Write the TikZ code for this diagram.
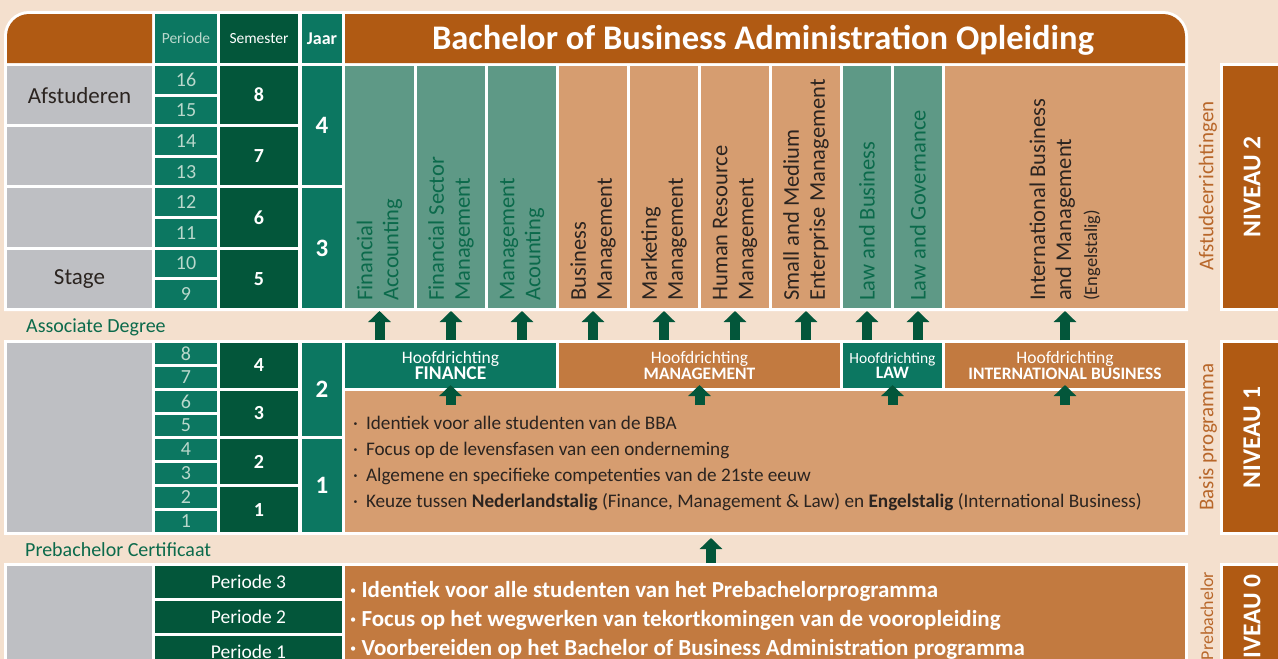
\documentclass[tikz,border=0pt]{standalone}
\usepackage{fontspec}
\setmainfont{Carlito}
\usetikzlibrary{arrows.meta,positioning}

\definecolor{bgpeach}{HTML}{F4E0CE}
\definecolor{brownhdr}{HTML}{B05A13}
\definecolor{graycell}{HTML}{BEBFC3}
\definecolor{greenmid}{HTML}{0C7761}
\definecolor{greendark}{HTML}{03563A}
\definecolor{greenlight}{HTML}{5E9986}
\definecolor{tancol}{HTML}{D69D70}
\definecolor{hoofdbrown}{HTML}{C27A40}
\definecolor{txtgreen}{HTML}{0B6A4B}
\definecolor{txtdark}{HTML}{2B2420}
\definecolor{pnum}{HTML}{BAD8CC}
\definecolor{sidebrown}{HTML}{B8672A}

\newcommand\fsz[2]{\fontsize{#1pt}{#2pt}\selectfont}

\begin{document}
\begin{tikzpicture}[x=1pt,y=-1pt,
  cell/.style={inner sep=0pt,outer sep=0pt,anchor=north west},
  coltxt/.style={rotate=90,anchor=west,inner sep=0pt,align=left,font=\fsz{22.5}{26}},
  sidetxt/.style={rotate=90,inner sep=0pt,text=sidebrown,font=\fsz{21}{24}},
  nivtxt/.style={rotate=90,inner sep=0pt,text=white,font=\bfseries\fsz{25.5}{28}},
  lbl/.style={anchor=west,inner sep=0pt,text=txtgreen,font=\fsz{20}{23}},
  uparrow/.style={draw=greendark,line width=10pt,-{Triangle[width=22pt,length=11pt]}},
  hoofd/.style={cell,text=white,align=center,minimum height=45pt}]

\clip (0,0) rectangle (1278,659);
\fill[bgpeach] (0,0) rectangle (1278,659);

% white frames
\fill[white] (4,311) -- (4,36) arc[start angle=180,end angle=270,radius=25]
  -- (1163,11) arc[start angle=270,end angle=360,radius=25] -- (1188,311) -- cycle;
\node[cell,fill=white,minimum width=1184pt,minimum height=195pt] (midframe) at (4,340) {};
\node[cell,fill=white,minimum width=1184pt,minimum height=120pt] (botframe) at (4,563) {};

% header
\fill[brownhdr] (7,63) -- (7,36) arc[start angle=180,end angle=270,radius=22] -- (152,14) -- (152,63) -- cycle;
\fill[brownhdr] (345,63) -- (345,14) -- (1163,14) arc[start angle=270,end angle=360,radius=22] -- (1185,63) -- cycle;
\node[font=\bfseries\fsz{34.5}{38},text=white] (title) at (763,40) {Bachelor of Business Administration Opleiding};
\node[cell,fill=greenmid,minimum width=62pt,minimum height=49pt,text=pnum,font=\fsz{15.5}{17}] (hper) at (155,14) {Periode};
\node[cell,fill=greendark,minimum width=78pt,minimum height=49pt,text=white,font=\fsz{15.5}{17}] (hsem) at (220,14) {Semester};
\node[cell,fill=greenmid,minimum width=40pt,minimum height=49pt,text=white,font=\bfseries\fsz{18}{20}] (hjaar) at (302,14) {Jaar};

% niveau 2: afstudeerrichtingen
\foreach \t [count=\i from 0] in {Afstuderen,{},{},Stage}
  \node[cell,fill=graycell,minimum width=145pt,minimum height=58.2pt,text=txtdark,font=\fsz{23}{26}] (ga\i) at (7,{66+\i*61.2}) {\t};
\foreach \n [count=\i from 0] in {16,15,...,9}
  \node[cell,fill=greenmid,minimum width=62pt,minimum height=27.6pt,text=pnum,font=\fsz{20}{22}] (p\n) at (155,{66+\i*30.6}) {\n};
\foreach \n [count=\i from 0] in {8,7,6,5}
  \node[cell,fill=greendark,minimum width=78pt,minimum height=58.2pt,text=white,font=\bfseries\fsz{20}{22}] (s\n) at (220,{66+\i*61.2}) {\n};
\foreach \n [count=\i from 0] in {4,3}
  \node[cell,fill=greenmid,minimum width=40pt,minimum height=119.4pt,text=white,font=\bfseries\fsz{25}{27}] (j\n) at (302,{66+\i*122.4}) {\n};

\foreach \nm/\x/\w/\fc/\tc/\txt in {
  fa/345/69/greenlight/txtgreen/{Financial\\Accounting},
  fsm/417/68/greenlight/txtgreen/{Financial Sector\\Management},
  ma/488/68/greenlight/txtgreen/{Management\\Acounting},
  bm/559/68/tancol/txtdark/{Business\\Management},
  mm/630/68/tancol/txtdark/{Marketing\\Management},
  hrm/701/68/tancol/txtdark/{Human Resource\\Management},
  sme/772/68/tancol/txtdark/{Small and Medium\\Enterprise Management},
  lb/843/48/greenlight/txtgreen/{Law and Business},
  lg/894/48/greenlight/txtgreen/{Law and Governance},
  ibm/945/240/tancol/txtdark/{International Business\\and Management\\{\fsz{18.5}{22}(Engelstalig)}}}
{
  \node[cell,fill=\fc,minimum width=\w pt,minimum height=242pt] (\nm) at (\x,66) {};
  \node[coltxt,text=\tc] (\nm-t) at ([yshift=7pt]\nm.south) {\txt};
}

\node[cell,fill=white,minimum width=65pt,minimum height=248pt] (niv2frame) at (1220,63) {};
\node[cell,fill=brownhdr,minimum width=58pt,minimum height=242pt] (niv2) at (1223,66) {};
\node[nivtxt] (niv2t) at (niv2.center) {NIVEAU 2};
\node[sidetxt] (afst) at (1208,186) {Afstudeerrichtingen};

\node[lbl] (assoc) at (26,327) {Associate Degree};
\foreach \c in {fa,fsm,ma,bm,mm,hrm,sme,lb,lg,ibm}
  \draw[uparrow] (\c.south |- midframe.north) -- ([yshift=-3pt]\c.south);

% niveau 1: basis programma
\node[cell,fill=graycell,minimum width=145pt,minimum height=189pt] (gm) at (7,343) {};
\foreach \n [count=\i from 0] in {8,7,...,1}
  \node[cell,fill=greenmid,minimum width=62pt,minimum height=21pt,text=pnum,font=\fsz{20}{22}] (q\n) at (155,{343+\i*24}) {\n};
\foreach \n [count=\i from 0] in {4,3,2,1}
  \node[cell,fill=greendark,minimum width=78pt,minimum height=45pt,text=white,font=\bfseries\fsz{20}{22}] (t\n) at (220,{343+\i*48}) {\n};
\foreach \n [count=\i from 0] in {2,1}
  \node[cell,fill=greenmid,minimum width=40pt,minimum height=93pt,text=white,font=\bfseries\fsz{25}{27}] (k\n) at (302,{343+\i*96}) {\n};

\node[hoofd,fill=greenmid,minimum width=211pt] (hfin) at (345,343)
  {{\fsz{17.5}{18}Hoofdrichting}\\{\bfseries\fsz{19.5}{19}FINANCE}};
\node[hoofd,fill=hoofdbrown,minimum width=281pt] (hman) at (559,343)
  {{\fsz{17.5}{18}Hoofdrichting}\\{\bfseries\fsz{17.5}{19}MANAGEMENT}};
\node[hoofd,fill=greenmid,minimum width=99pt] (hlaw) at (843,343)
  {{\fsz{15.5}{17}Hoofdrichting}\\{\bfseries\fsz{17.5}{19}LAW}};
\node[hoofd,fill=hoofdbrown,minimum width=240pt] (hib) at (945,343)
  {{\fsz{17.5}{18}Hoofdrichting}\\{\bfseries\fsz{17.5}{19}INTERNATIONAL BUSINESS}};

\node[cell,fill=tancol,minimum width=840pt,minimum height=141pt] (basis) at (345,391) {};
\node[anchor=north west,inner sep=0pt,align=left,text=txtdark,font=\fsz{19.2}{26}] (basist) at (353,416)
  {·\hspace{8pt}Identiek voor alle studenten van de BBA\\
   ·\hspace{8pt}Focus op de levensfasen van een onderneming\\
   ·\hspace{8pt}Algemene en specifieke competenties van de 21ste eeuw\\
   ·\hspace{8pt}Keuze tussen \textbf{Nederlandstalig} (Finance, Management \& Law) en \textbf{Engelstalig} (International Business)};
\foreach \h in {hfin,hman,hlaw,hib}
  \draw[uparrow] ([yshift=-17pt]\h.south) -- ([yshift=3pt]\h.south);

\node[cell,fill=white,minimum width=65pt,minimum height=195pt] (niv1frame) at (1220,340) {};
\node[cell,fill=brownhdr,minimum width=58pt,minimum height=189pt] (niv1) at (1223,343) {};
\node[nivtxt] (niv1t) at (niv1.center) {NIVEAU 1};
\node[sidetxt] (basp) at (1208,437) {Basis programma};

\node[lbl] (pbcert) at (25,550) {Prebachelor Certificaat};
\coordinate (pbarrow) at (711,563);
\draw[uparrow] (pbarrow) -- ([yshift=-3pt]pbarrow |- midframe.south);

% niveau 0: prebachelor
\node[cell,fill=graycell,minimum width=145pt,minimum height=112pt] (gb) at (7,566) {};
\foreach \n [count=\i from 0] in {3,2,1}
  \node[cell,fill=greendark,minimum width=187pt,minimum height=32pt,text=white,font=\fsz{19.5}{21}] (pp\n) at (155,{566+\i*35}) {Periode \n};
\node[cell,fill=hoofdbrown,minimum width=840pt,minimum height=112pt] (pbbox) at (345,566) {};
\node[anchor=north west,inner sep=0pt,align=left,text=white,font=\bfseries\fsz{23}{29}] (pbt) at (350,581)
  {· Identiek voor alle studenten van het Prebachelorprogramma\\
   · Focus op het wegwerken van tekortkomingen van de vooropleiding\\
   · Voorbereiden op het Bachelor of Business Administration programma};

\node[cell,fill=white,minimum width=65pt,minimum height=120pt] (niv0frame) at (1220,563) {};
\node[cell,fill=brownhdr,minimum width=58pt,minimum height=112pt] (niv0) at (1223,566) {};
\node[nivtxt] (niv0t) at ([yshift=-3pt]niv0.center) {NIVEAU 0};
\node[sidetxt,font=\fsz{18}{20}] (preb) at (1207,616) {Prebachelor};
\end{tikzpicture}
\end{document}
